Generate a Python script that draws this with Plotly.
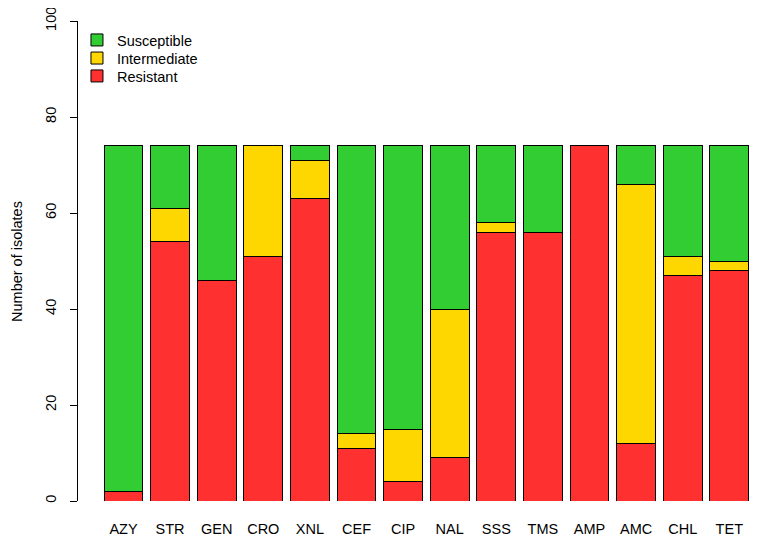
import plotly.graph_objects as go

categories = ["AZY", "STR", "GEN", "CRO", "XNL", "CEF", "CIP", "NAL", "SSS", "TMS", "AMP", "AMC", "CHL", "TET"]
resistant = [2, 54, 46, 51, 63, 11, 4, 9, 56, 56, 74, 12, 47, 48]
intermediate = [0, 7, 0, 23, 8, 3, 11, 31, 2, 0, 0, 54, 4, 2]
susceptible = [72, 13, 28, 0, 3, 60, 59, 34, 16, 18, 0, 8, 23, 24]
y_ticks = [0, 20, 40, 60, 80, 100]

FONT = "Liberation Sans, Arial, sans-serif"
FS = 14.5
xpos = list(range(len(categories)))

fig = go.Figure()
for name, vals, col, leg in [("Resistant", resistant, "#FF3030", "legend3"),
                             ("Intermediate", intermediate, "#FFD700", "legend2"),
                             ("Susceptible", susceptible, "#32CD32", "legend")]:
    fig.add_trace(go.Bar(x=xpos, y=vals, name=name, width=0.833, legend=leg,
                         marker=dict(color=col, line=dict(color="black", width=1))))

def leg(y):
    return dict(x=-0.0015, y=y, xanchor="left", yanchor="top",
                bgcolor="rgba(0,0,0,0)", font=dict(size=FS), itemwidth=30)

# page body has an 8px margin, so the figure is sized/offset to compensate
fig.update_layout(
    barmode="stack",
    width=753, height=540,
    margin=dict(l=70, r=5, t=13, b=47, autoexpand=False),
    paper_bgcolor="white", plot_bgcolor="white",
    font=dict(family=FONT, size=FS, color="black"),
    showlegend=True,
    legend=leg(0.9937), legend2=leg(0.956), legend3=leg(0.9187),
    xaxis=dict(range=[-0.976, 13.573], tickvals=xpos, ticktext=categories,
               showgrid=False, zeroline=False, showline=False, ticks="",
               ticklabelstandoff=17, automargin=False),
    yaxis=dict(range=[0, 100], tickvals=y_ticks, showgrid=False, zeroline=False,
               showline=True, linecolor="black", linewidth=1, ticks="outside",
               ticklen=7, tickcolor="black", tickangle=-90, ticklabelstandoff=8,
               ticklabeloverflow="allow", automargin=False),
    annotations=[dict(text="Number of isolates", xref="paper", yref="paper",
                      x=-0.09, y=0.5, xanchor="center", yanchor="middle",
                      textangle=-90, showarrow=False, font=dict(size=FS))],
)
fig.write_html("out.html")
